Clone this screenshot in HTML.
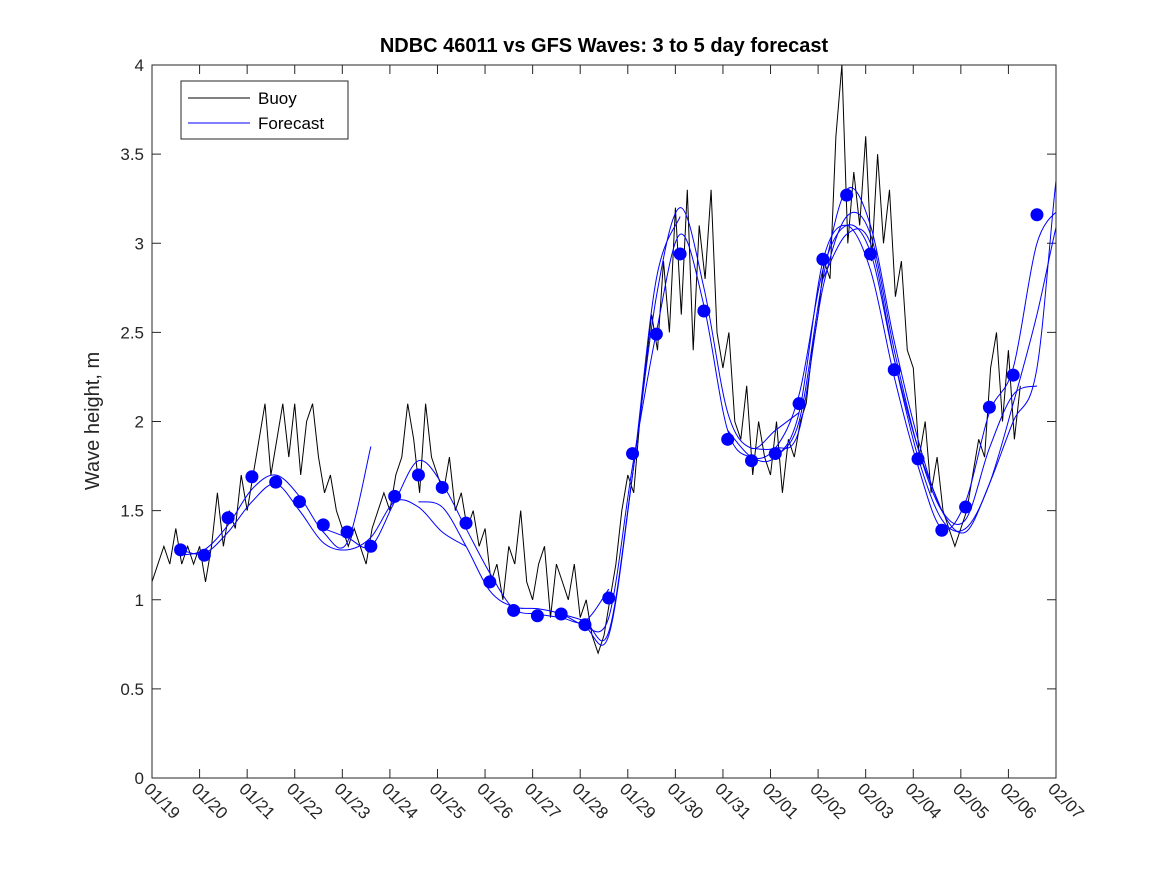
<!DOCTYPE html>
<html><head><meta charset="utf-8"><style>
body{margin:0;background:#fff;}
svg{display:block;font-family:"Liberation Sans","DejaVu Sans",sans-serif;}
</style></head><body>
<svg id="chart" width="1167" height="875" xmlns="http://www.w3.org/2000/svg">
<rect x="0" y="0" width="1167" height="875" fill="#fff"/>
<defs><clipPath id="pc"><rect x="152" y="65" width="904" height="713"/></clipPath></defs>
<text x="604" y="52" text-anchor="middle" font-size="20" font-weight="bold" fill="#000">NDBC 46011 vs GFS Waves: 3 to 5 day forecast</text>
<text transform="translate(99,421) rotate(-90)" text-anchor="middle" font-size="20" fill="#262626">Wave height, m</text>
<g id="axes"></g>
<g id="series" clip-path="url(#pc)"></g>
<rect x="152" y="65" width="904" height="713" fill="none" stroke="#262626" stroke-width="1"/>
<g>
<rect x="181" y="81" width="167" height="58" fill="#fff" stroke="#262626" stroke-width="1"/>
<line x1="188" y1="98" x2="250" y2="98" stroke="#000"/>
<text x="258" y="104" font-size="17" fill="#000">Buoy</text>
<line x1="188" y1="123" x2="250" y2="123" stroke="#00f"/>
<text x="258" y="129" font-size="17" fill="#000">Forecast</text>
</g>
</svg>
<script>
const xTickLabels=["01/19","01/20","01/21","01/22","01/23","01/24","01/25","01/26","01/27","01/28","01/29","01/30","01/31","02/01","02/02","02/03","02/04","02/05","02/06","02/07"];
const yTicks=[0,0.5,1,1.5,2,2.5,3,3.5,4];
const yTickLabels=["0","0.5","1","1.5","2","2.5","3","3.5","4"];
// buoy: 3-hourly from 01/19 00:00
const buoy=[1.1,1.2,1.3,1.2,1.4,1.2,1.3,1.2,
1.3,1.1,1.3,1.6,1.3,1.5,1.4,1.7,
1.5,1.7,1.9,2.1,1.7,1.9,2.1,1.8,
2.1,1.7,2.0,2.1,1.8,1.6,1.7,1.5,
1.4,1.3,1.4,1.3,1.2,1.4,1.5,1.6,
1.5,1.7,1.8,2.1,1.9,1.6,2.1,1.8,
1.7,1.6,1.8,1.5,1.6,1.4,1.5,1.3,
1.4,1.1,1.2,1.0,1.3,1.2,1.5,1.1,
1.0,1.2,1.3,0.9,1.2,1.1,1.0,1.2,
0.9,1.0,0.8,0.7,0.8,1.0,1.2,1.5,
1.7,1.6,2.0,2.3,2.6,2.4,2.9,2.5,
3.2,2.6,3.3,2.4,3.1,2.8,3.3,2.5,
2.3,2.5,2.0,1.9,2.2,1.7,2.0,1.8,
1.7,2.0,1.6,1.9,1.8,2.0,2.1,2.4,
2.6,2.9,2.8,3.6,4.0,3.0,3.4,3.1,
3.6,2.9,3.5,3.0,3.3,2.7,2.9,2.4,
2.3,1.8,2.0,1.6,1.8,1.5,1.4,1.3,
1.4,1.5,1.7,1.9,1.8,2.3,2.5,2.0,
2.4,1.9,2.2];
const buoyStepDays=0.125;
// verification dots: every 12h from day 0.6
const dotStart=0.6;
const dots=[1.28,1.25,1.46,1.69,1.66,1.55,1.42,1.38,1.30,1.58,1.70,1.63,1.43,1.10,0.94,0.91,0.92,0.86,1.01,1.82,2.49,2.94,2.62,1.90,1.78,1.82,2.10,2.91,3.27,2.94,2.29,1.79,1.39,1.52,2.08,2.26,3.16];
// forecast runs (start day, 12h-step values)
const fcStarts=[0.6,0.6,3.6,5.6,8.6,9.1,12.6,14.1,13.1,12.1];
const fcA=[1.25,1.28,1.42,1.62,1.70,1.58,1.38,1.32,1.86];
const fcB=[1.28,1.26,1.38,1.55,1.65,1.50,1.32,1.28,1.35,1.55,1.52,1.38,1.30];
const fcC=[1.40,1.35,1.30,1.55,1.78,1.65,1.40,1.15,0.95,0.92,0.90,0.88,1.06];
const fcD=[1.55,1.52,1.30,1.05,0.96,0.95,0.92,0.85,0.80,1.70,2.80,3.15];
const fcE=[0.92,0.88,0.82,1.70,2.70,3.20,2.75,2.05,1.85,1.95,2.05];
const fcF=[0.85,0.90,1.75,2.50,3.05,2.65,1.95,1.80,1.85,2.15,2.85,3.10,2.95,2.35,1.85,1.50];
const fcG=[1.85,1.85,1.95,2.75,3.15,3.05,2.40,1.85,1.50,1.45,1.85,2.15,2.20];
const fcH=[2.80,3.05,3.00,2.35,1.80,1.45,1.40,1.65,2.10,2.60,3.20,3.60];
const fcI=[1.80,2.00,2.80,3.30,3.10,2.45,1.90,1.50,1.38,1.65,2.00,2.30,3.55,3.75];
const fcJ=[1.95,1.80,1.80,2.05,2.90,3.10,2.85,2.25,1.75,1.40,1.55,2.05,2.30,3.00,3.20];
const NS="http://www.w3.org/2000/svg";
const X0=152,X1=1056,Y0=778,Y1=65;
const xs=d=>X0+d*(X1-X0)/19;
const ys=v=>Y0-v*(Y0-Y1)/4;
const axes=document.getElementById('axes'),ser=document.getElementById('series');
function mk(tag,attrs,parent){const e=document.createElementNS(NS,tag);for(const k in attrs)e.setAttribute(k,attrs[k]);parent.appendChild(e);return e;}
yTicks.forEach((v,i)=>{
 const y=ys(v);
 const t=mk('line',{x1:X0,x2:X0+9,y1:y,y2:y,stroke:'#262626'},axes);
 
 
 const t2=mk('line',{x1:X1-9,x2:X1,y1:y,y2:y,stroke:'#262626'},axes);
 
 
 const l=mk('text',{x:X0-8,y:y+6,'text-anchor':'end','font-size':17,fill:'#262626'},axes);
 l.textContent=yTickLabels[i];
 
 
});
xTickLabels.forEach((s,i)=>{
 const x=xs(i);
 const t=mk('line',{x1:x,x2:x,y1:Y0,y2:Y0-9,stroke:'#262626'},axes);
 
 
 const t2=mk('line',{x1:x,x2:x,y1:Y1,y2:Y1+9,stroke:'#262626'},axes);
 
 
 const l=mk('text',{transform:`translate(${x-9},${Y0+12}) rotate(45)`,'font-size':17,fill:'#262626'},axes);
 l.textContent=s;
 
 
});
let p='';buoy.forEach((v,i)=>{p+=(i?'L':'M')+xs(i*buoyStepDays).toFixed(1)+','+ys(v).toFixed(1);});
const bl=mk('path',{d:p,fill:'none',stroke:'#000','stroke-width':1},ser);


function smooth(pts){let d='M'+pts[0][0]+','+pts[0][1];for(let i=0;i<pts.length-1;i++){const p0=pts[i-1]||pts[i],p1=pts[i],p2=pts[i+1],p3=pts[i+2]||p2;
 d+='C'+(p1[0]+(p2[0]-p0[0])/6)+','+(p1[1]+(p2[1]-p0[1])/6)+' '+(p2[0]-(p3[0]-p1[0])/6)+','+(p2[1]-(p3[1]-p1[1])/6)+' '+p2[0]+','+p2[1];}return d;}
[fcA,fcB,fcC,fcD,fcE,fcF,fcG,fcH,fcI,fcJ].forEach((arr,k)=>{
 const pts=arr.map((v,i)=>[xs(fcStarts[k]+i*0.5),ys(v)]);
 const f=mk('path',{d:smooth(pts),fill:'none',stroke:'#00f','stroke-width':1},ser);
 
 
});
dots.forEach((v,i)=>{
 const c=mk('circle',{cx:xs(dotStart+i*0.5),cy:ys(v),r:6.5,fill:'#00f'},ser);
 
 
});
</script>
</body></html>
